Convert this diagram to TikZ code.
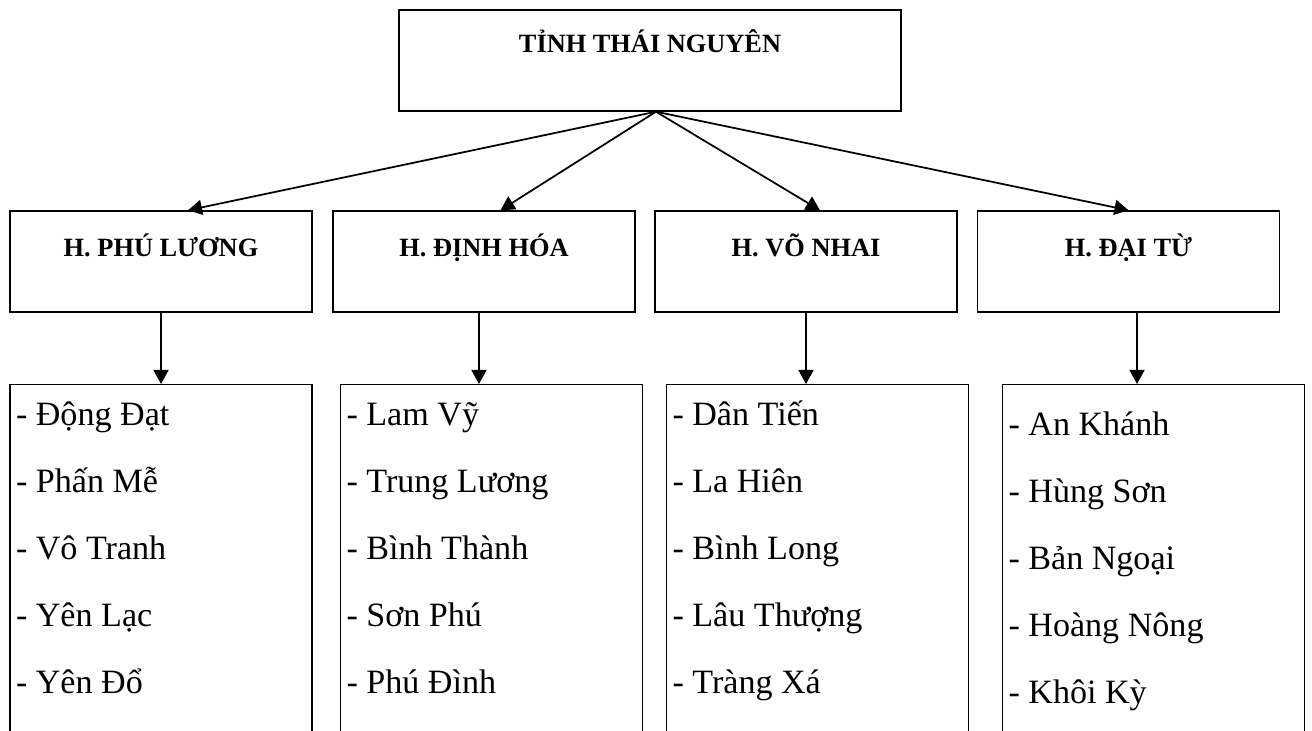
\documentclass[tikz,border=0pt]{standalone}
\usepackage{fontspec}
\setmainfont{Liberation Serif}
\usetikzlibrary{arrows.meta}

\newcommand{\dsxa}[2]{\parbox[c][7.4cm][t]{5.8cm}{\raggedright\rule{0pt}{#1}#2}}

\begin{document}
\begin{tikzpicture}[
		hop/.style={draw, line width=0.8pt, minimum width=6.04cm, minimum height=2.02cm, text height=0.5cm, text depth=0.68cm, font=\fontsize{15pt}{18pt}\selectfont\bfseries},
		ds/.style={draw, line width=0.8pt, anchor=north, inner xsep=0.12cm, inner ysep=0pt, font=\fontsize{19.4pt}{38.1pt}\selectfont},
		mui/.style={line width=1pt, -{Triangle[length=2.8mm, width=3mm]}}]
		\clip (0,0) rectangle (26.24,14.62);

		\node[hop, minimum width=10.04cm, text depth=0.8cm] (tn) at (13,13.41) {TỈNH THÁI NGUYÊN};

		\node[hop] (pl) at (3.22,9.39) {H. PHÚ LƯƠNG};
		\node[hop] (dh) at (9.68,9.39) {H. ĐỊNH HÓA};
		\node[hop] (vn) at (16.12,9.39) {H. VÕ NHAI};
		\node[hop] (dt) at (22.57,9.39) {H. ĐẠI TỪ};

		\node[ds] (xpl) at (3.22,6.94) {\dsxa{0.82cm}{- Động Đạt\\- Phấn Mễ\\- Vô Tranh\\- Yên Lạc\\- Yên Đổ}};
		\node[ds] (xdh) at (9.83,6.94) {\dsxa{0.82cm}{- Lam Vỹ\\- Trung Lương\\- Bình Thành\\- Sơn Phú\\- Phú Đình}};
		\node[ds] (xvn) at (16.35,6.94) {\dsxa{0.82cm}{- Dân Tiến\\- La Hiên\\- Bình Long\\- Lâu Thượng\\- Tràng Xá}};
		\node[ds] (xdt) at (23.07,6.94) {\dsxa{1.02cm}{- An Khánh\\- Hùng Sơn\\- Bản Ngoại\\- Hoàng Nông\\- Khôi Kỳ}};

		\draw[mui] ([xshift=1.2mm]tn.south) -- ([xshift=5.4mm]pl.north);
		\draw[mui] ([xshift=1.2mm]tn.south) -- ([xshift=3.3mm]dh.north);
		\draw[mui] ([xshift=1.2mm]tn.south) -- ([xshift=2.8mm]vn.north);
		\draw[mui] ([xshift=1.2mm]tn.south) -- (dt.north);

		\draw[mui] (pl.south) -- (pl.south |- xpl.north);
		\draw[mui] ([xshift=-1mm]dh.south) -- ([xshift=-1mm]dh.south |- xdh.north);
		\draw[mui] (vn.south) -- (vn.south |- xvn.north);
		\draw[mui] ([xshift=1.7mm]dt.south) -- ([xshift=1.7mm]dt.south |- xdt.north);
	\end{tikzpicture}
\end{document}
